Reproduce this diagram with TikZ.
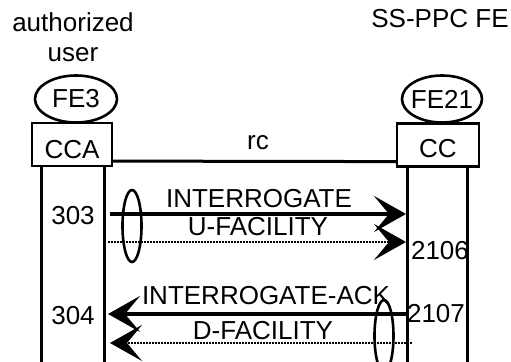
\documentclass[tikz,border=0pt]{standalone}
\usepackage{fontspec}
\setmainfont{Liberation Sans}
\usetikzlibrary{arrows.meta,positioning,calc,shapes.geometric}

\begin{document}
\begin{tikzpicture}[x=0.5pt,y=-0.5pt,font=\fontsize{13}{15}\selectfont,
  fe/.style={draw,ellipse,line width=1.3pt,inner sep=0pt,minimum width=41pt,minimum height=23.5pt},
  fcbox/.style={draw,rectangle,line width=1.1pt,inner sep=0pt,minimum width=40pt,minimum height=21.5pt},
  life/.style={line width=1.5pt},
  msg/.style={line width=1.6pt,-{Stealth[length=16pt,width=18pt,inset=7.5pt]}},
  dotmsg/.style={msg,line width=1.3pt,dash pattern=on 1pt off 0.5pt},
  relate/.style={draw,ellipse,line width=1.3pt,inner sep=0pt,minimum width=9.5pt,minimum height=36pt}]
 \useasboundingbox (0,0) rectangle (511,362);
 % entities
 \node[align=center] (user) at (73,37) {authorized\\user};
 \node (ssppc) at (440,19) {SS-PPC FE};
 \node[fcbox,label={[yshift=-2.5pt]center:CCA}] (cca) at (72,144.5) {};
 \node[fe,label=center:FE3] (fe3) at (76,99) {};
 \node[fcbox,minimum width=41pt,label={[yshift=-2pt]center:CC}] (cc) at (438,145) {};
 \node[fe,minimum width=40pt,label=center:FE21] (fe21) at (442,99) {};
 \node (rc) at (258,143) {rc};
 \draw[life] ($(cca.south east)+(0,-6)$) -- ($(cc.south west)+(0,-6)$);
 \foreach \x in {42,105,408,468}
   \draw[life] (\x,166) -- (\x,362);
 % flows
 \coordinate (ia) at (110,214);  \coordinate (ib) at (406,214);
 \coordinate (ua) at (108,242);  \coordinate (ub) at (406,242);
 \coordinate (ka) at (407,314);  \coordinate (kb) at (108,314);
 \coordinate (da) at (412,343);  \coordinate (db) at (110,343);
 \draw[msg] (ia) -- (ib);
 \draw[dotmsg] (ua) -- (ub);
 \draw[msg] (ka) -- (kb);
 \draw[dotmsg] (da) -- (db);
 \node (interr) at (259,199) {INTERROGATE};
 \node (ufac) at (258,227) {U-FACILITY};
 \node (interrack) at (266,296) {INTERROGATE-ACK};
 \node (dfac) at (263,331) {D-FACILITY};
 \node[relate] (req) at (132,226) {};
 \node[relate] (resp) at (384,336) {};
 \node (n303) at (73,216) {303};
 \node (n304) at (73,316) {304};
 \node (n2106) at (440,251) {2106};
 \node (n2107) at (436,314) {2107};
\end{tikzpicture}
\end{document}
